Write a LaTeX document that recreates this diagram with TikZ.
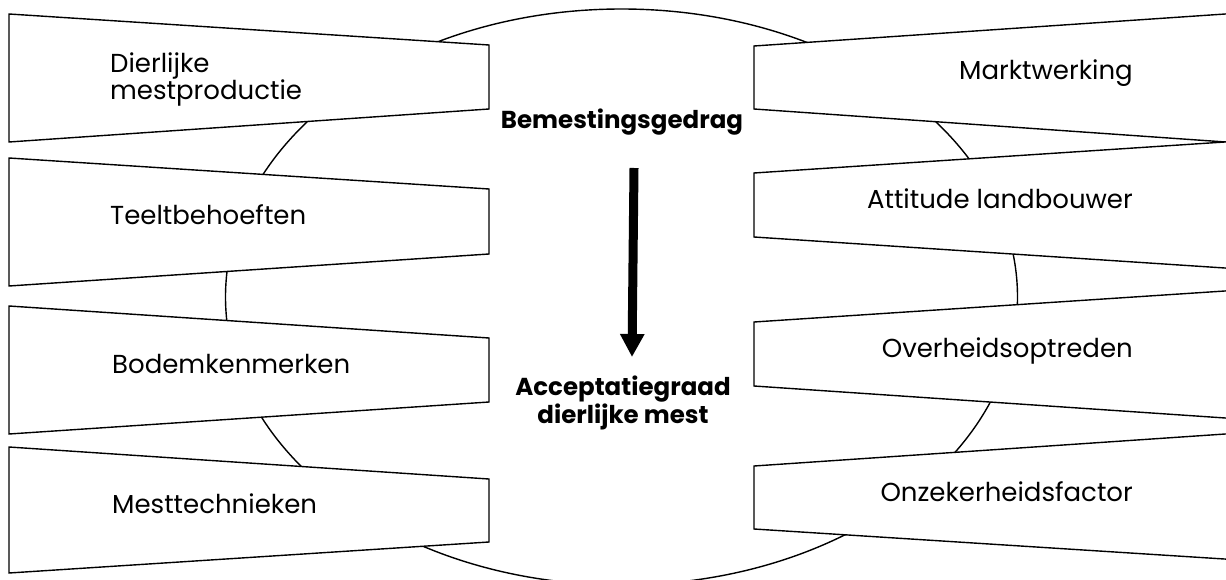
\documentclass[tikz,border=0pt]{standalone}
\usepackage{fontspec}
\setmainfont{Poppins}
\usetikzlibrary{arrows.meta}
\begin{document}
\begin{tikzpicture}[x=1pt,y=-1pt,
  outline/.style={line width=1.4pt, line join=miter},
  panel/.style={outline, draw=black, fill=white},
  factor/.style={font=\fontsize{26}{26}\selectfont, inner sep=0pt},
  core/.style={font=\bfseries\fontsize{24.5}{25}\selectfont, inner sep=0pt, align=center}]
\useasboundingbox (0,0) rectangle (1226,580);
\clip (0,0) rectangle (1226,580);

% central ellipse behind the factor panels
\draw[outline] (621.5,297) ellipse [x radius=396, y radius=288];

% left-hand panels
\filldraw[panel] (9,14)  -- (489,45)  -- (489,109) -- (9,142) -- cycle;
\filldraw[panel] (9,158) -- (489,189) -- (489,254) -- (9,286) -- cycle;
\filldraw[panel] (9,306) -- (489,338) -- (489,402) -- (9,434) -- cycle;
\filldraw[panel] (9,447) -- (489,479) -- (489,542) -- (9,573) -- cycle;

% right-hand panels, running off the right edge
\filldraw[panel] (1240,13)  -- (754,46)  -- (754,109) -- (1240,143);
\filldraw[panel] (1240,141) -- (754,173) -- (754,237) -- (1240,269);
\filldraw[panel] (1240,290) -- (754,322) -- (754,386) -- (1240,419);
\filldraw[panel] (1240,433) -- (754,466) -- (754,529) -- (1240,560);

% factor labels (a multi-line node sits on the baseline of its last line)
\node[factor, anchor=base west, align=left] (dmp) at (110,100) {Dierlijke\\mestproductie};
\node[factor, anchor=base west] (tb) at (110,225) {Teeltbehoeften};
\node[factor, anchor=base west] (bk) at (112,373) {Bodemkenmerken};
\node[factor, anchor=base west] (mt) at (112,513) {Mesttechnieken};
\node[factor, anchor=base east] (mw) at (1133,80)  {Marktwerking};
\node[factor, anchor=base east] (al) at (1133,208) {Attitude landbouwer};
\node[factor, anchor=base east] (oo) at (1133,357) {Overheidsoptreden};
\node[factor, anchor=base east] (oz) at (1133,501) {Onzekerheidsfactor};

% central statements and the arrow between them
\node[core, anchor=base] (bem) at (622,129) {Bemestingsgedrag};
\node[core, anchor=base] (acc) at (623,423) {Acceptatiegraad\\dierlijke mest};
\coordinate (arrtop) at (634,168);
\coordinate (arrtip) at (632,357);
\draw[line width=9pt, -{Triangle[width=23pt,length=23pt]}] (arrtop) -- (arrtip);
\end{tikzpicture}
\end{document}
